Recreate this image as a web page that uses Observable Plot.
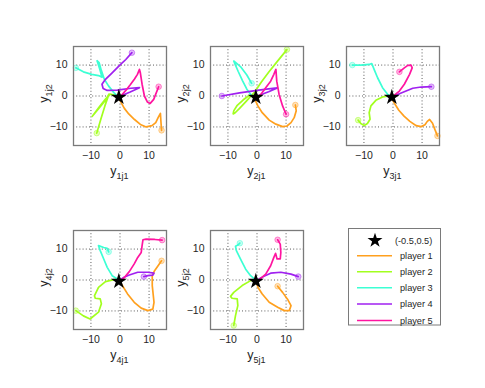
<!DOCTYPE html>
<html><head><meta charset="utf-8">
<script src="https://cdn.jsdelivr.net/npm/d3@7"></script>
<script src="https://cdn.jsdelivr.net/npm/@observablehq/plot@0.6"></script>
<style>
body{margin:0;background:#fff;}
#wrap{position:relative;width:485px;height:388px;background:#fff;overflow:hidden;font-family:"Liberation Sans",Arial,sans-serif;}
#wrap svg{position:absolute;overflow:visible;}
</style></head><body><div id="wrap"></div>
<script>
const players = ["player 1", "player 2", "player 3", "player 4", "player 5"];
const colors = ["#ffa01e", "#a2ff1e", "#3cffd4", "#a020f0", "#ff14a0"];
const starLabel = "(-0.5,0.5)";
const equilibrium = [{x: -0.4, y: -0.4}];
const ticks = [-10, 0, 10];
const domain = [-16, 16];

// subplot 1
const s1p1 = [[14.3,-11.1],[14.1,-8.5],[13.9,-5.6],[13.2,-6.8],[12.3,-8.6],[11,-9.6],[9,-10],[7,-9.2],[5,-7.6],[3,-5.8],[1.5,-4],[0.5,-2.3],[-0.3,-0.8]];
const s1p2 = [[-8,-12],[-6.6,-7.5],[-5.2,-3.2],[-4.1,-0.2],[-3.8,0.6],[-5.2,-1.6],[-7.3,-4],[-9.6,-6.6],[-7.1,-3.5],[-5,-1],[-3.4,0.6],[-2,0.3],[-0.6,-0.4]];
const s1p3 = [[-15.2,9.1],[-12.6,7.8],[-9.7,7],[-7.4,6.6],[-6.2,6.1],[-6.9,8.5],[-7.6,10.6],[-7.9,11.4],[-7.2,10.8],[-6.4,8.2],[-5.4,5.4],[-3.9,3.2],[-2.1,1.1],[-0.7,-0.3]];
const s1p4 = [[4.1,14],[2,11.8],[0.2,10.2],[-2.7,7.5],[-5,5.4],[-6.2,3.8],[-5.8,2.4],[-4.4,1.8],[-0.9,1.9],[3.7,2.5],[6.7,2.7],[3.5,1.3],[1,0.3],[-0.4,-0.3]];
const s1p5 = [[13.3,3],[12.5,1.1],[11.6,-1.1],[10.4,-2.4],[9.4,-1.9],[8.4,0],[7.6,3.8],[7,7.5],[6.7,8.6],[6,7],[5,5.5],[3.6,3.7],[2,1.8],[0.6,0.3]];
// subplot 2
const s2p1 = [[13.2,-2.9],[13.5,-4.8],[12.8,-7],[11.7,-8.6],[10.3,-9.7],[8.8,-9.9],[6.5,-9.1],[4.2,-7.8],[1.8,-5.4],[0.3,-3.2],[-0.5,-1.6],[-0.5,-0.6]];
const s2p2 = [[10.3,15],[7,11.2],[4,7.7],[1.5,4.5],[-0.8,1.3],[-3.5,-1.5],[-6,-4],[-7.6,-5.5],[-8.2,-5.8],[-8,-4.8],[-6.8,-3],[-4.8,-1.3],[-3,0],[-1.5,0.4],[-0.5,-0.4]];
const s2p3 = [[-1.85,4.1],[-3.5,6.8],[-5.5,9.3],[-7.3,10.8],[-8,11.3],[-7.6,10.4],[-6.5,8],[-5,5],[-3.5,2.2],[-2,0.3],[-0.8,-0.5]];
const s2p4 = [[-12.1,0],[-6,1],[0,1.8],[4,2.3],[7,2.6],[4,1.4],[1.5,0.5],[-0.3,-0.3]];
const s2p5 = [[10,-5.9],[8.8,-3.2],[7.6,0.5],[6.8,4.8],[6.5,8.6],[5.8,7],[4.7,4.8],[3,2.7],[1.3,0.5],[0,-0.5]];
// subplot 3
const s3p1 = [[15.3,-12.9],[14.4,-10.8],[13.6,-8.8],[12.6,-7.6],[11.8,-8.2],[11,-9.3],[9.7,-9.9],[8,-9.6],[5.8,-8.2],[3.8,-6.5],[2,-4.6],[0.6,-2.5],[-0.3,-1]];
const s3p2 = [[-12,-7.8],[-11.1,-8.9],[-9.9,-9.5],[-8.8,-8.9],[-7.9,-7.5],[-8.2,-5.4],[-7.6,-3.2],[-5.9,-1.4],[-3.6,-0.3],[-1.3,0]];
const s3p3 = [[-14,10],[-11.1,10],[-8.2,10.2],[-7.3,10.5],[-6.5,8.6],[-5.3,5.9],[-3.6,2.7],[-1.8,0.5],[-0.7,0]];
const s3p4 = [[13.2,3],[9.7,2.9],[6.8,2.5],[4.5,1.6],[2.2,0.75],[0.5,0]];
const s3p5 = [[2.2,7.8],[3.9,9.1],[5.1,9.9],[6.2,10],[6.6,9.1],[5.7,7],[3.9,3.8],[2.2,1.6],[0.5,0.3]];
// subplot 4
const s4p1 = [[14.3,6.2],[13.1,4.6],[11.9,3],[11.1,1.4],[11.1,-1.8],[11.7,-7.2],[11.3,-9.4],[9.6,-9.9],[7.3,-9.1],[4.9,-7.2],[2.6,-4.5],[0.8,-1.8],[0,-0.75]];
const s4p2 = [[-15.2,-9.9],[-12.6,-11.6],[-10.3,-12.6],[-7.4,-10.4],[-6.4,-7.7],[-6.8,-6.1],[-8.5,-5.9],[-8.8,-5.1],[-7.4,-2.4],[-5,-0.5],[-2.1,0.1],[-0.8,0]];
const s4p3 = [[-3.9,9.1],[-4.4,10.2],[-5.6,10.5],[-7.4,11.1],[-6.8,9.5],[-5.6,6.8],[-4.4,4.1],[-2.7,1.4],[-0.9,0.3]];
const s4p4 = [[8.2,1.1],[9.6,1.4],[11.3,1.6],[11.7,2.2],[9.6,2.5],[6.1,2.5],[3.2,1.6],[1.4,0.9],[0.2,0.1]];
const s4p5 = [[14.5,12.9],[12,13.1],[9,13.2],[7.9,13],[7.6,11.1],[7.3,8.9],[6.1,7.3],[4.9,5.2],[3.2,2.7],[1.2,0.5],[0,-0.3]];
// subplot 5
const s5p1 = [[7.1,-2],[8.8,-4],[10.5,-6.2],[11.7,-8.3],[11.1,-9.9],[9.4,-9.9],[7.1,-8.8],[4.2,-7.2],[1.8,-4.5],[0.35,-2.4],[-0.1,-1]];
const s5p2 = [[-8,-14.7],[-7.4,-11.5],[-6.6,-8.3],[-6.8,-6.1],[-8.6,-5.9],[-9.1,-5.3],[-8,-4],[-5.1,-1.8],[-2.2,-0.2],[-0.8,0.1]];
const s5p3 = [[-5.9,11.9],[-6.6,11.3],[-7.4,10.9],[-7.1,9.5],[-5.7,6.8],[-3.9,3.5],[-2.2,1.4],[-0.8,0.3]];
const s5p4 = [[14.2,1.1],[11.7,1.9],[8.2,2.5],[4.7,2.2],[2.4,1.2],[0.7,0.3]];
const s5p5 = [[7.1,13],[8,11.6],[8.2,8.9],[8,6.8],[6.9,6.8],[6.4,8.6],[5.8,7.3],[4.7,4.6],[3,1.9],[1,0.3]];

const subplots = [
  {k: 1, paths: [s1p1, s1p2, s1p3, s1p4, s1p5], L: 73, T: 45.5},
  {k: 2, paths: [s2p1, s2p2, s2p3, s2p4, s2p5], L: 210, T: 45.5},
  {k: 3, paths: [s3p1, s3p2, s3p3, s3p4, s3p5], L: 346, T: 45.5},
  {k: 4, paths: [s4p1, s4p2, s4p3, s4p4, s4p5], L: 73, T: 230},
  {k: 5, paths: [s5p1, s5p2, s5p3, s5p4, s5p5], L: 210, T: 230}
];

const FONT = '"Liberation Sans", Arial, sans-serif';
const wrap = document.getElementById("wrap");
const W = 93, H = 99, ml = 36, mr = 4, mt = 4, mb = 44;

for (const sp of subplots) {
  const rows = [];
  sp.paths.forEach((pts, i) => pts.forEach(([x, y], j) => rows.push({x, y, player: players[i], order: j})));
  const starts = sp.paths.map((pts, i) => ({x: pts[0][0], y: pts[0][1], player: players[i]}));
  const plot = Plot.plot({
    width: W + ml + mr, height: H + mt + mb,
    marginLeft: ml, marginRight: mr, marginTop: mt, marginBottom: mb,
    x: {domain, label: null},
    y: {domain, label: null},
    color: {domain: players, range: colors},
    style: {fontFamily: FONT, fontSize: "10px", color: "#262626", background: "transparent"},
    marks: [
      Plot.frame({fill: "white"}),
      Plot.gridX(ticks, {stroke: "#262626", strokeOpacity: 0.75, strokeDasharray: "1,2.2", strokeWidth: 1}),
      Plot.gridY(ticks, {stroke: "#262626", strokeOpacity: 0.75, strokeDasharray: "1,2.2", strokeWidth: 1}),
      Plot.line(rows, {x: "x", y: "y", z: "player", stroke: "player", strokeWidth: 1.7}),
      Plot.dot(starts, {x: "x", y: "y", r: 2.8, fill: "player", fillOpacity: 0.3, stroke: "player", strokeOpacity: 0.45, strokeWidth: 1}),
      Plot.dot(equilibrium, {x: "x", y: "y", symbol: "star", r: 5, fill: "black"}),
      Plot.frame({stroke: "#7a7a7a", strokeWidth: 1.3}),
      Plot.axisX(ticks, {tickSize: 0, tickPadding: 6, fontSize: 10.5, label: null}),
      Plot.axisY(ticks, {tickSize: 0, tickPadding: 6, fontSize: 10.5, label: null})
    ]
  });
  plot.style.left = (sp.L - ml) + "px";
  plot.style.top = (sp.T - mt) + "px";
  const svg = d3.select(plot);
  const xl = svg.append("text")
    .attr("x", ml + W / 2).attr("y", mt + H + 29.5)
    .attr("text-anchor", "middle").attr("fill", "#262626").attr("font-family", FONT);
  xl.append("tspan").attr("font-size", 12.5).text("y");
  xl.append("tspan").attr("font-size", 9).attr("dy", 4).text(`${sp.k}j1`);
  const yl = svg.append("text")
    .attr("transform", `translate(${ml - 25.5},${mt + H / 2 - 2}) rotate(-90)`)
    .attr("text-anchor", "middle").attr("fill", "#262626").attr("font-family", FONT);
  yl.append("tspan").attr("font-size", 12.5).text("y");
  yl.append("tspan").attr("font-size", 9).attr("dy", 4).text(`${sp.k}j2`);
  wrap.appendChild(plot);
}

// legend
const lg = d3.select(wrap).append("svg")
  .attr("width", 93).attr("height", 98)
  .style("left", "348px").style("top", "228px");
lg.append("rect").attr("x", 0.5).attr("y", 0.5).attr("width", 92).attr("height", 96.5)
  .attr("fill", "white").attr("stroke", "#7a7a7a").attr("stroke-width", 1);
lg.append("path").attr("d", d3.symbol(d3.symbolStar, Math.PI * 4.7 * 4.7)())
  .attr("transform", "translate(27,12.5)").attr("fill", "black");
lg.append("text").attr("x", 47).attr("y", 12.5).attr("dy", "0.35em")
  .attr("font-size", 9.2).attr("font-family", FONT).attr("fill", "#262626").text(starLabel);
const lineY = [27.7, 43.7, 59.7, 76, 92.5];
players.forEach((p, i) => {
  lg.append("line").attr("x1", 9).attr("x2", 44).attr("y1", lineY[i]).attr("y2", lineY[i])
    .attr("stroke", colors[i]).attr("stroke-width", 1.4);
  lg.append("text").attr("x", 52).attr("y", lineY[i]).attr("dy", "0.35em")
    .attr("font-size", 9.2).attr("font-family", FONT).attr("fill", "#262626").text(p);
});
</script></body></html>
